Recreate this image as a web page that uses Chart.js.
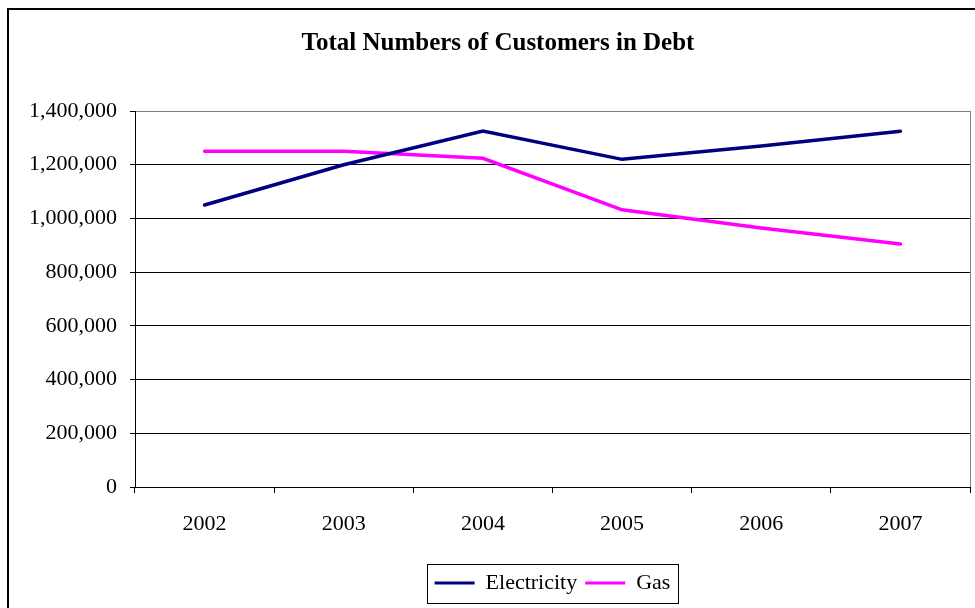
<!DOCTYPE html>
<html>
<head>
<meta charset="utf-8">
<script src="https://cdn.jsdelivr.net/npm/chart.js@4"></script>
<style>
  html, body { margin: 0; padding: 0; background: #fff; }
  #wrap { width: 975px; height: 608px; position: relative; }
</style>
</head>
<body>
<div id="wrap"><canvas id="c" width="975" height="608"></canvas></div>
<script>
// Customers in debt, by year
const years = ['2002', '2003', '2004', '2005', '2006', '2007'];
const electricity = [1050000, 1200000, 1325000, 1220000, 1270000, 1325000];
const gas = [1250000, 1250000, 1224000, 1032000, 964000, 905000];

const yMin = 0;
const yMax = 1400000;
const yStep = 200000;

const SERIF = '"Liberation Serif", "Times New Roman", Times, serif';

// Outer frame, plot border and the box round the legend
const framePlugin = {
  id: 'frame',
  afterLayout(chart) {
    // centre the legend under the plot area and the title over the frame
    const area = chart.chartArea;
    chart.legend.left = area.left;
    chart.legend.right = area.right;
    if (chart.titleBlock) {
      chart.titleBlock.left = 8;
      chart.titleBlock.right = 988;
    }
  },
  beforeDatasetsDraw(chart) {
    const { ctx, chartArea: a } = chart;
    ctx.save();
    ctx.strokeStyle = '#808080';
    ctx.lineWidth = 1;
    ctx.beginPath();
    ctx.moveTo(Math.round(a.right) + 0.5, a.top);
    ctx.lineTo(Math.round(a.right) + 0.5, a.bottom);
    ctx.stroke();
    ctx.restore();
  },
  afterDraw(chart) {
    const ctx = chart.ctx;
    ctx.save();
    ctx.strokeStyle = '#000';
    ctx.lineWidth = 2;
    ctx.strokeRect(8, 9, 1000, 700);

    const lg = chart.legend;
    const hb = lg.legendHitBoxes;
    if (hb && hb.length) {
      const first = hb[0], last = hb[hb.length - 1];
      const left = Math.round(first.left - 8) + 0.5;
      const right = Math.round(last.left + last.width + 8) + 0.5;
      const top = Math.round(lg.top) + 0.5;
      const bottom = Math.round(lg.top + lg.height) - 0.5;
      ctx.lineWidth = 1;
      ctx.strokeRect(left, top, right - left, bottom - top);
    }
    ctx.restore();
  }
};

new Chart(document.getElementById('c'), {
  type: 'line',
  data: {
    labels: years,
    datasets: [
      {
        label: 'Electricity',
        data: electricity,
        borderColor: '#000080',
        backgroundColor: '#000080',
        borderWidth: 3.5,
        borderCapStyle: 'round',
        pointRadius: 0,
        tension: 0,
        fill: false
      },
      {
        label: 'Gas',
        data: gas,
        borderColor: '#FF00FF',
        backgroundColor: '#FF00FF',
        borderWidth: 3.5,
        borderCapStyle: 'round',
        pointRadius: 0,
        tension: 0,
        fill: false
      }
    ]
  },
  options: {
    responsive: false,
    animation: false,
    devicePixelRatio: 1,
    layout: { padding: { left: 0, right: 5, top: 0, bottom: 4 } },
    plugins: {
      title: {
        display: true,
        text: 'Total Numbers of Customers in Debt',
        color: '#000',
        font: { family: SERIF, size: 25, weight: 'bold' },
        padding: { top: 29, bottom: 52 }
      },
      legend: {
        display: true,
        position: 'bottom',
        labels: {
          color: '#000',
          font: { family: SERIF, size: 22 },
          boxWidth: 40,
          boxHeight: 3,
          padding: 8,
          generateLabels(chart) {
            return Chart.defaults.plugins.legend.labels.generateLabels(chart).map(item => {
              const ds = chart.data.datasets[item.datasetIndex];
              return Object.assign(item, { fillStyle: ds.borderColor, lineWidth: 0 });
            });
          }
        }
      },
      tooltip: { enabled: false }
    },
    scales: {
      x: {
        type: 'category',
        offset: true,
        grid: {
          offset: true,
          drawOnChartArea: false,
          drawTicks: true,
          tickLength: 6,
          tickColor: '#000'
        },
        border: { display: true, color: '#000', width: 1 },
        ticks: {
          color: '#000',
          font: { family: SERIF, size: 22 },
          padding: 18,
          maxRotation: 0,
          autoSkip: false
        },
        afterFit(scale) { scale.height = 77; }
      },
      y: {
        min: yMin,
        max: yMax,
        grid: {
          drawOnChartArea: true,
          drawTicks: true,
          tickLength: 5,
          color: ctx => (ctx.tick && ctx.tick.value === yMax ? '#808080' : '#000'),
          tickColor: '#000'
        },
        border: { display: true, color: '#000', width: 1 },
        ticks: {
          stepSize: yStep,
          color: '#000',
          font: { family: SERIF, size: 22 },
          padding: 13,
          callback: v => Number(v).toLocaleString('en-US')
        },
        afterFit(scale) { scale.width = 135; }
      }
    }
  },
  plugins: [framePlugin]
});
</script>
</body>
</html>
